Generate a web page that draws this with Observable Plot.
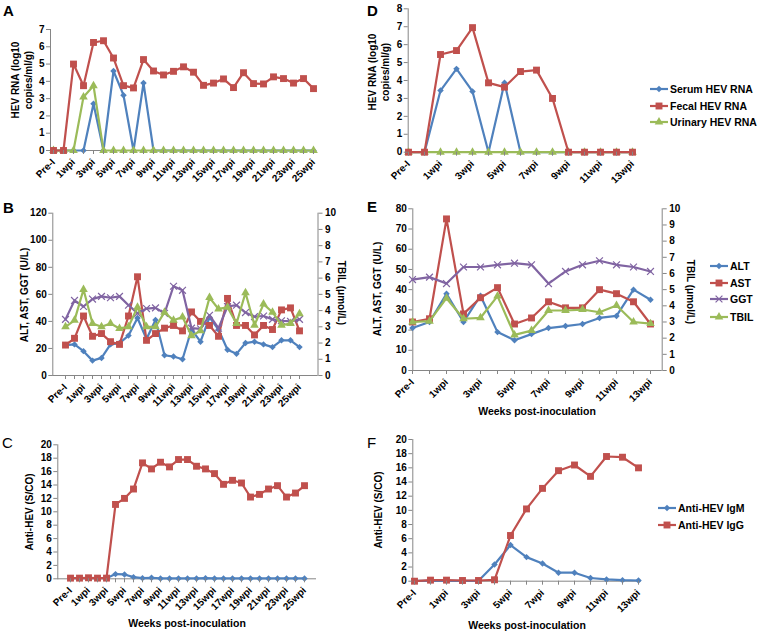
<!DOCTYPE html>
<html><head><meta charset="utf-8">
<script src="https://cdn.jsdelivr.net/npm/d3@7"></script>
<script src="https://cdn.jsdelivr.net/npm/@observablehq/plot@0.6"></script>
<style>
body{margin:0;background:#fff;}
#wrap{position:relative;width:760px;height:635px;font-family:"Liberation Sans",Arial,sans-serif;color:#000;overflow:hidden;background:#fff}
.t{position:absolute;white-space:nowrap;font-size:10.5px;font-weight:bold;line-height:1}
.rot{transform:translate(-50%,-50%) rotate(-90deg)}
.rot90{transform:translate(-50%,-50%) rotate(90deg)}
.ctr{transform:translate(-50%,-50%)}
.let{position:absolute;font-size:15px;line-height:15px;font-weight:bold}
.panel{position:absolute}
</style></head>
<body><div id="wrap">
<div class="let" style="left:3px;top:3px">A</div>
<div class="let" style="left:3px;top:200px">B</div>
<div class="let" style="left:2px;top:435px;font-weight:normal">C</div>
<div class="let" style="left:367px;top:3px">D</div>
<div class="let" style="left:367px;top:199px">E</div>
<div class="let" style="left:367px;top:435px;font-weight:normal">F</div>
<div class="t rot" style="left:21.5px;top:80px;text-align:center;line-height:13px;font-size:10px">HEV RNA (log10<br>copies/ml/g)</div>
<div class="t rot" style="left:378.5px;top:72px;text-align:center;line-height:13px;font-size:10px">HEV RNA (log10<br>copies/ml/g)</div>
<div class="t rot" style="left:25px;top:295px;font-size:10px">ALT, AST, GGT (U/L)</div>
<div class="t rot90" style="left:341px;top:293px;font-size:10px">TBIL (μmol/L)</div>
<div class="t rot" style="left:30px;top:512px;font-size:10px">Anti-HEV (S/CO)</div>
<div class="t rot" style="left:378px;top:289px;font-size:10px">ALT, AST, GGT (U/L)</div>
<div class="t rot90" style="left:690px;top:292px;font-size:10px">TBIL (μmol/L)</div>
<div class="t rot" style="left:379px;top:510px;font-size:10px">Anti-HEV (S/CO)</div>
<div class="t ctr" style="left:187px;top:623px">Weeks post-inoculation</div>
<div class="t ctr" style="left:537px;top:411px">Weeks post-inoculation</div>
<div class="t ctr" style="left:527px;top:625px">Weeks post-inoculation</div>
</div>
<script>
// ---------- categories / tick labels ----------
const weeksLong = ["Pre-I","0wpi","1wpi","2wpi","3wpi","4wpi","5wpi","6wpi","7wpi","8wpi","9wpi","10wpi","11wpi","12wpi","13wpi","14wpi","15wpi","16wpi","17wpi","18wpi","19wpi","20wpi","21wpi","22wpi","23wpi","24wpi","25wpi"];
const weeksShort = ["Pre-I","0wpi","1wpi","2wpi","3wpi","4wpi","5wpi","6wpi","7wpi","8wpi","9wpi","10wpi","11wpi","12wpi","13wpi"];

// ---------- Panel A: HEV RNA (log10 copies/ml/g), 27 time points ----------
const serumA   = [0,0,0,0,2.7,0,4.6,3.2,0,3.9,0,0,0,0,0,0,0,0,0,0,0,0,0,0,0,0,0];
const fecalA   = [0,0,5.0,3.75,6.25,6.35,5.35,3.75,3.62,5.26,4.6,4.37,4.58,4.84,4.53,3.77,3.9,4.14,3.64,4.5,3.87,3.85,4.26,4.16,3.9,4.16,3.58];
const urinaryA = [0,0,0,3.1,3.75,0,0,0,0,0,0,0,0,0,0,0,0,0,0,0,0,0,0,0,0,0,0];

// ---------- Panel B: liver enzymes (U/L) and TBIL (umol/L) ----------
const altB  = [22.5,23,18,11,13,23,24,29.5,42.5,27,41,15,14,12,34,25,43,34,19,16,24,25,23,21,26,26,21];
const astB  = [22.5,27.5,44,29,31,25,23,44,73,26,31,35,37,33,47,40,37,29,57,37,37,30,37,34,48.5,50,33];
const ggtB  = [41.5,55.5,51,56.5,58.5,57.5,58.5,52,46,49.5,50,46,66,63,35,34.5,44.5,35,51,52,46.5,43.5,44,41.5,40.5,40,41.5];
const tbilB = [3.0,3.4,5.3,3.2,3.0,3.2,2.9,3.0,4.2,3.0,3.0,3.9,3.4,3.6,2.45,2.75,4.8,4.1,4.2,3.2,5.1,3.1,4.4,3.9,3.1,3.2,3.8];

// ---------- Panel C: Anti-HEV (S/CO) ----------
const igmC = [0.1,0.1,0.1,0.1,0.1,0.7,0.65,0.25,0.1,0.15,0.05,0.05,0.05,0.05,0.05,0.1,0.05,0.05,0.05,0.05,0.05,0.05,0.05,0.05,0.05,0.05,0.05];
const iggC = [0.1,0.1,0.15,0.1,0.1,11.1,12.0,13.4,17.3,16.4,17.4,16.7,17.8,17.8,16.8,16.4,15.7,14.1,14.7,14.3,12.2,12.6,13.4,13.9,12.2,12.8,13.9];

// ---------- Panel D: HEV RNA, 15 time points ----------
const serumD   = [0,0,3.44,4.65,3.39,0,3.87,0,0,0,0,0,0,0,0];
const fecalD   = [0,0,5.45,5.67,6.95,3.87,3.63,4.5,4.58,3.0,0,0,0,0,0];
const urinaryD = [0,0,0,0,0,0,0,0,0,0,0,0,0,0,0];

// ---------- Panel E: liver enzymes and TBIL ----------
const altE  = [21,24,38,24,37,19,15,18,21,22,23,26,27,40,35];
const astE  = [24,25.6,75,28,36,41,23,26,34,31,31,40,38,34,23];
const ggtE  = [45,46.2,43,51.2,51.2,52.3,53.1,52.3,43,49,52.3,54.3,52.3,51.2,49];
const tbilE = [3.0,3.05,4.47,3.2,3.26,4.6,2.2,2.47,3.71,3.71,3.77,3.6,4.02,3.0,2.9];

// ---------- Panel F: Anti-HEV (S/CO) ----------
const igmF = [0.05,0.05,0.05,0.05,0.05,2.35,5.1,3.4,2.5,1.2,1.2,0.45,0.25,0.15,0.1];
const iggF = [0,0.15,0.15,0.1,0.1,0.2,6.45,10.2,13.1,15.6,16.4,14.8,17.6,17.5,16.0];

// ---------- axis ticks ----------
const ticksA = [0,1,2,3,4,5,6,7];
const ticksD = [0,1,2,3,4,5,6,7,8];
const ticksB = [0,20,40,60,80,100,120];
const ticksE = [0,10,20,30,40,50,60,70,80];
const ticksTbil = [0,1,2,3,4,5,6,7,8,9,10];
const ticksAb = [0,2,4,6,8,10,12,14,16,18,20];

const BLUE="#4F81BD", RED="#C0504D", GREEN="#9BBB59", PURPLE="#8064A2", AX="#868686";
const SYM = {diamond2:{r:2.9}, square:{r:3.9}, triangle:{r:3.2}, times:{r:3.2}};

const wrap = document.getElementById("wrap");

function panel(cfg){
  const marks = [
    Plot.ruleY([cfg.yDomain[0]], {stroke: AX}),
    Plot.frame({anchor: "left", stroke: AX})
  ];
  if (cfg.right) marks.push(Plot.frame({anchor: "right", stroke: AX}));
  cfg.series.forEach(s => {
    const rows = [];
    cfg.cats.forEach((c,i) => { const v = s.values[i]; if (v != null) rows.push({c, v: v * (s.k || 1)}); });
    marks.push(Plot.line(rows, {x:"c", y:"v", stroke:s.color, strokeWidth:2.2}));
    if (s.symbol === "times")
      marks.push(Plot.dot(rows, {x:"c", y:"v", symbol:"times", stroke:s.color, strokeWidth:1.2, r:SYM.times.r}));
    else
      marks.push(Plot.dot(rows, {x:"c", y:"v", symbol:s.symbol, fill:s.color, r:SYM[s.symbol].r}));
  });
  marks.push(Plot.axisX({tickSize:4, tickPadding:6, tickRotate:-45, stroke:AX, fill:"#000", label:null,
    tickFormat: d => cfg.cats.indexOf(d) % 2 === 0 ? d : ""}));
  marks.push(Plot.axisY({ticks:cfg.yTicks, tickSize:4, tickPadding:2, stroke:AX, fill:"#000", label:null, tickFormat: d => String(d)}));
  if (cfg.right) marks.push(Plot.axisY({anchor:"right", ticks:cfg.right.ticks.map(t => t*cfg.right.k), tickSize:4, tickPadding:3, stroke:AX, fill:"#000", label:null, tickFormat: d => String(Math.round(d/cfg.right.k))}));
  const xs = {type:"point", domain:cfg.cats, padding:0};
  if (cfg.xRange) xs.range = cfg.xRange;
  const p = Plot.plot({
    width:cfg.w, height:cfg.h,
    marginLeft:cfg.mL, marginRight:cfg.mR, marginTop:cfg.mT, marginBottom:cfg.mB,
    x: xs,
    y: {domain:cfg.yDomain},
    style:{fontFamily:'"Liberation Sans", Arial, sans-serif', fontSize:"10px", fontWeight:"bold", background:"transparent", overflow:"visible", color:"#000"},
    marks
  });
  p.classList.add("panel");
  p.style.left = cfg.left + "px";
  p.style.top = cfg.top + "px";
  wrap.appendChild(p);
}

panel({left:0, top:0, w:380, h:200, mL:50, mR:64, mT:29, mB:50, cats:weeksLong, yDomain:[0,7], yTicks:ticksA,
  series:[{values:serumA,color:BLUE,symbol:"diamond2"},{values:urinaryA,color:GREEN,symbol:"triangle"},{values:fecalA,color:RED,symbol:"square"}]});

panel({left:0, top:200, w:380, h:220, mL:52.3, mR:62.5, mT:12.7, mB:45, xRange:[52.3,312], cats:weeksLong, yDomain:[0,120], yTicks:ticksB,
  right:{ticks:ticksTbil, k:12},
  series:[{values:altB,color:BLUE,symbol:"diamond2"},{values:astB,color:RED,symbol:"square"},{values:ggtB,color:PURPLE,symbol:"times"},{values:tbilB,color:GREEN,symbol:"triangle",k:12}]});

panel({left:0, top:420, w:380, h:215, mL:57.3, mR:64, mT:24.3, mB:56.7, cats:weeksLong, yDomain:[0,20], yTicks:ticksAb,
  series:[{values:igmC,color:BLUE,symbol:"diamond2"},{values:iggC,color:RED,symbol:"square"}]});

panel({left:380, top:0, w:380, h:200, mL:27.7, mR:128, mT:8.3, mB:48.3, cats:weeksShort, yDomain:[0,8], yTicks:ticksD,
  series:[{values:serumD,color:BLUE,symbol:"diamond2"},{values:urinaryD,color:GREEN,symbol:"triangle"},{values:fecalD,color:RED,symbol:"square"}]});

panel({left:380, top:200, w:380, h:220, mL:32.3, mR:98.3, mT:8.3, mB:50, xRange:[32.3,270.7], cats:weeksShort, yDomain:[0,80], yTicks:ticksE,
  right:{ticks:ticksTbil, k:8},
  series:[{values:altE,color:BLUE,symbol:"diamond2"},{values:astE,color:RED,symbol:"square"},{values:ggtE,color:PURPLE,symbol:"times"},{values:tbilE,color:GREEN,symbol:"triangle",k:8}]});

panel({left:380, top:420, w:380, h:215, mL:32.3, mR:119.3, mT:19, mB:54.3, cats:weeksShort, yDomain:[0,20], yTicks:ticksAb,
  series:[{values:igmF,color:BLUE,symbol:"diamond2"},{values:iggF,color:RED,symbol:"square"}]});

// ---------- legends ----------
const d3sym = {diamond2:d3.symbolDiamond2, square:d3.symbolSquare, triangle:d3.symbolTriangle, times:d3.symbolTimes};
function legendItem(x, y, color, symbol, text, lw){
  const svg = d3.create("svg").attr("width", lw).attr("height", 12)
    .style("position","absolute").style("left", x+"px").style("top", (y-6)+"px").style("overflow","visible");
  svg.append("line").attr("x1",0).attr("x2",lw).attr("y1",6).attr("y2",6).attr("stroke",color).attr("stroke-width",2.2);
  const r = SYM[symbol].r;
  const path = svg.append("path").attr("d", d3.symbol(d3sym[symbol], Math.PI*r*r)()).attr("transform", `translate(${lw/2},6)`);
  if (symbol === "times") path.attr("fill","none").attr("stroke",color).attr("stroke-width",1.2);
  else path.attr("fill",color);
  wrap.appendChild(svg.node());
  const div = document.createElement("div");
  div.className = "t";
  div.style.left = (x + lw + 2) + "px";
  div.style.top = y + "px";
  div.style.transform = "translateY(-50%)";
  div.textContent = text;
  wrap.appendChild(div);
}
const legD = ["Serum HEV RNA","Fecal HEV RNA","Urinary HEV RNA"];
const legE = ["ALT","AST","GGT","TBIL"];
const legF = ["Anti-HEV IgM","Anti-HEV IgG"];
legendItem(650, 89, BLUE, "diamond2", legD[0], 18);
legendItem(650, 106, RED, "square", legD[1], 18);
legendItem(650, 122, GREEN, "triangle", legD[2], 18);
legendItem(710, 266, BLUE, "diamond2", legE[0], 18);
legendItem(710, 283, RED, "square", legE[1], 18);
legendItem(710, 299, PURPLE, "times", legE[2], 18);
legendItem(710, 317, GREEN, "triangle", legE[3], 18);
legendItem(658, 508, BLUE, "diamond2", legF[0], 18);
legendItem(658, 525, RED, "square", legF[1], 18);
</script>
</body></html>
